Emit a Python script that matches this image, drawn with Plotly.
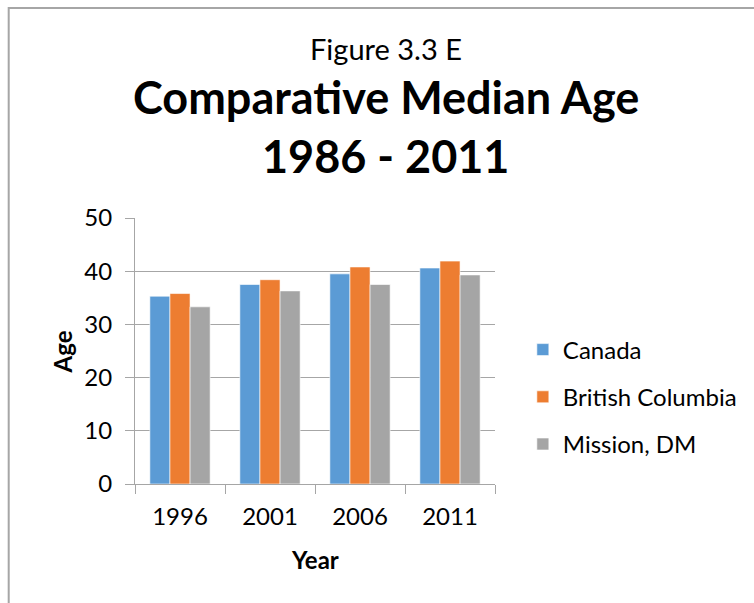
import plotly.graph_objects as go

# Census years and median age by region
years = ["1996", "2001", "2006", "2011"]
canada = [35.3, 37.5, 39.5, 40.6]
british_columbia = [35.8, 38.4, 40.8, 41.9]
mission_dm = [33.3, 36.3, 37.5, 39.3]

series_names = ["Canada", "British Columbia", "Mission, DM"]
series_values = [canada, british_columbia, mission_dm]
series_colors = ["#5B9BD5", "#ED7D31", "#A5A5A5"]

FONT = "Lato, Carlito, Calibri, sans-serif"
W, H = 754, 603
L, R, T, B = 135, 257, 218, 119
plot_w = W - L - R
plot_h = H - T - B


def px_x(x):
    return (x - L) / plot_w


def px_y(y):
    return (H - B - y) / plot_h


fig = go.Figure()
for name, vals, col in zip(series_names, series_values, series_colors):
    fig.add_trace(go.Bar(
        x=years, y=vals, name=name, legendgroup=name,
        marker=dict(color=col, line=dict(color="white", width=0.6)),
    ))

grid = "#a6a6a6"
fig.update_layout(
    width=W, height=H,
    margin=dict(l=L, r=R, t=T, b=B),
    paper_bgcolor="white", plot_bgcolor="white",
    barmode="group", bargap=0.33, bargroupgap=0,
    font=dict(family=FONT, color="black", size=24),
    showlegend=True,
    legend=dict(
        x=px_x(525), xanchor="left", y=px_y(397), yanchor="middle",
        font=dict(size=24, family=FONT), tracegroupgap=13,
        traceorder="grouped", bgcolor="rgba(0,0,0,0)",
    ),
    xaxis=dict(
        type="category", tickson="boundaries", ticks="outside", ticklen=9,
        tickcolor=grid, showline=True, linecolor=grid, linewidth=1,
        showgrid=False, tickfont=dict(size=24, family=FONT),
        ticklabelstandoff=11,
    ),
    yaxis=dict(
        range=[0, 50], dtick=10, ticks="outside", ticklen=9, tickcolor=grid,
        showline=True, linecolor=grid, linewidth=1,
        showgrid=True, gridcolor=grid, gridwidth=1,
        tickfont=dict(size=24, family=FONT), zeroline=False,
        ticklabelstandoff=8,
    ),
)

annotations = [
    dict(text="Figure 3.3 E", x=px_x(387), y=px_y(48), font=dict(size=29)),
    dict(text="<b>Comparative Median Age</b>", x=px_x(387), y=px_y(97), font=dict(size=45)),
    dict(text="<b>1986 - 2011</b>", x=px_x(387), y=px_y(156), font=dict(size=45)),
    dict(text="<b>Year</b>", x=px_x(316), y=px_y(559), font=dict(size=24)),
    dict(text="<b>Age</b>", x=px_x(62), y=px_y(352), font=dict(size=24), textangle=-90),
]
for a in annotations:
    a["font"]["family"] = FONT
    a["font"]["color"] = "black"
    fig.add_annotation(xref="paper", yref="paper", xanchor="center",
                       yanchor="middle", showarrow=False, **a)

# chart-area frame
fig.add_shape(type="rect", xref="paper", yref="paper",
              x0=px_x(8), x1=px_x(W + 10), y0=px_y(H + 10), y1=px_y(8),
              line=dict(color="#a6a6a6", width=2), fillcolor="rgba(0,0,0,0)",
              layer="below")

fig.write_html("out.html")
